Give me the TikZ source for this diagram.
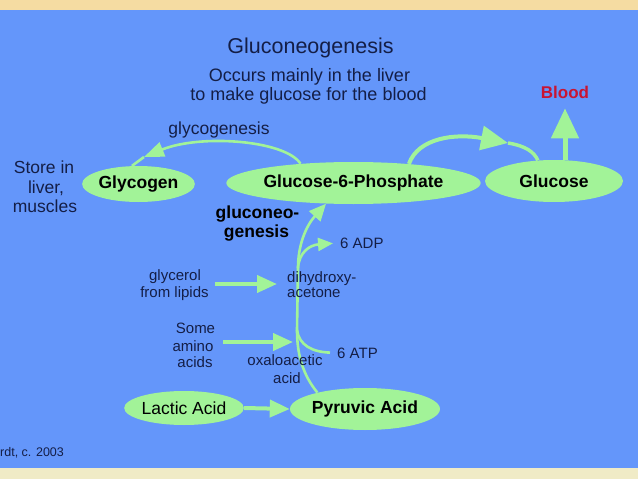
\documentclass[tikz,border=0pt]{standalone}
\usepackage{fontspec}
\setmainfont{Liberation Sans}
\usetikzlibrary{shapes.geometric,arrows.meta}
\definecolor{bgblue}{RGB}{100,150,250}
\definecolor{pgreen}{RGB}{162,243,152}
\definecolor{navy}{RGB}{20,30,70}
\definecolor{bloodred}{RGB}{200,20,50}
\definecolor{topband}{RGB}{245,220,162}
\definecolor{botband}{RGB}{240,235,198}
\newcommand{\fsz}[1]{\fontsize{#1}{#1}\selectfont}
\pgfdeclarelayer{bglayer}
\pgfdeclarelayer{linelayer}
\pgfsetlayers{bglayer,linelayer,main}
\begin{document}
\begin{tikzpicture}[x=1pt,y=-1pt,
  txt/.style={anchor=base,inner sep=0pt,text=navy,font=\fsz{17.5}},
  small/.style={anchor=base,inner sep=0pt,text=navy,font=\fsz{15}},
  boldlbl/.style={anchor=base,inner sep=0pt,text=black,font=\fsz{17.5}\bfseries},
  compound/.style={ellipse,fill=pgreen,inner sep=0pt,text=black,font=\fsz{17.5}\bfseries},
  straightflow/.style={draw=pgreen,line width=4pt,-{Triangle[length=20pt,width=17pt]}},
  thinflow/.style={draw=pgreen,line width=2.6pt},
]
\useasboundingbox (0,0) rectangle (638,479);
\begin{pgfonlayer}{bglayer}
\fill[bgblue] (0,0) rectangle (638,479);
\fill[topband] (0,0) rectangle (638,10);
\fill[botband] (0,468) rectangle (638,479);
\end{pgfonlayer}

% titles
\node[txt,font=\fsz{21.5}] (title) at (310.5,53) {Gluconeogenesis};
\node[txt,font=\fsz{18}] (sub1) at (309.5,81) {Occurs mainly in the liver};
\node[txt,font=\fsz{18}] (sub2) at (308.5,100) {to make glucose for the blood};
\node[boldlbl,text=bloodred,font=\fsz{17}\bfseries] (blood) at (565,98) {Blood};

% compounds
\node[compound,minimum width=95pt,minimum height=36pt] (glycogen) at (138.5,184) {Glycogen};
\node[compound,minimum width=203pt,minimum height=42pt] (g6p) at (353.5,183) {Glucose-6-Phosphate};
\node[compound,minimum width=138pt,minimum height=42pt] (glucose) at (554,181) {Glucose};
\node[compound,font=\fsz{17.5},minimum width=110pt,minimum height=34pt] (lactic) at (184,408) {Lactic Acid};
\node[compound,minimum width=150pt,minimum height=42pt] (pyruvic) at (365,409) {Pyruvic Acid};

% labels
\node[txt] (glycogenesis) at (219,134) {glycogenesis};
\node[txt] (store1) at (44,173) {Store in};
\node[txt] (store2) at (46,193) {liver,};
\node[txt] (store3) at (45,212) {muscles};
\node[boldlbl] (gng1) at (257.5,218) {gluconeo-};
\node[boldlbl] (gng2) at (256.5,237) {genesis};
\node[small,anchor=base west] (adp) at (340,248) {6 ADP};
\node[small,anchor=base west] (dihy1) at (287,282) {dihydroxy-};
\node[small,anchor=base west] (dihy2) at (287,297) {acetone};
\node[small] (glyc1) at (175,280) {glycerol};
\node[small] (glyc2) at (174.5,297) {from lipids};
\node[small] (amino1) at (195.5,333) {Some};
\node[small] (amino2) at (193,351) {amino};
\node[small] (amino3) at (195,367) {acids};
\node[small] (oxa1) at (285,365) {oxaloacetic};
\node[small] (oxa2) at (287,383) {acid};
\node[small,anchor=base west] (atp) at (337,358) {6 ATP};
\node[small,anchor=base west,font=\fsz{12.5}] (credit) at (0,456) {rdt, c. 2003};

% coordinates
\coordinate (ytip) at (144,157);
\coordinate (gtip) at (508,143);
\coordinate (atpfork) at (297,330);
\coordinate (adpfork) at (298,268);
\coordinate (glycstart) at (215,284);
\coordinate (aminostart) at (223,342);

\begin{pgfonlayer}{linelayer}
% glycogenesis
\draw[thinflow,-{Triangle[length=20pt,width=15pt]}] (g6p.160) .. controls (285,140) and (200,134) .. (ytip);
\draw[thinflow] (ytip) -- (glycogen.110);

% G6P -> Glucose
\draw[draw=pgreen,line width=4pt,-{Triangle[length=27pt,width=24pt]}] (g6p.19) .. controls (418,138) and (455,133) .. (gtip);
\draw[draw=pgreen,line width=3.5pt] (gtip) .. controls (526,146) and (534,152) .. (glucose.128);

% Blood
\draw[draw=pgreen,line width=5pt,-{Triangle[length=30pt,width=27pt]},shorten >=10pt] (blood.south |- glucose.north) -- (blood.south);

% gluconeogenesis pathway
\draw[thinflow,-{Triangle[length=17pt,width=15pt]}] (pyruvic.161) .. controls (303,375) and (297,355) .. (atpfork) -- (adpfork) .. controls (298,245) and (306,226) .. (g6p.217);
\draw[thinflow,-{Triangle[length=15pt,width=13pt]},shorten >=7pt] (adpfork) .. controls (299,252) and (310,245) .. (adp.west);
\draw[thinflow,shorten >=7pt] (atpfork) .. controls (299,345) and (312,352) .. (atp.west);

% straight inputs
\draw[straightflow,shorten >=10pt] (glycstart) -- (dihy1.west |- glycstart);
\draw[straightflow,shorten >=4pt] (aminostart) -- (atpfork |- aminostart);
\draw[straightflow] (lactic.east) -- (pyruvic.west);
\end{pgfonlayer}
\end{tikzpicture}
\end{document}
